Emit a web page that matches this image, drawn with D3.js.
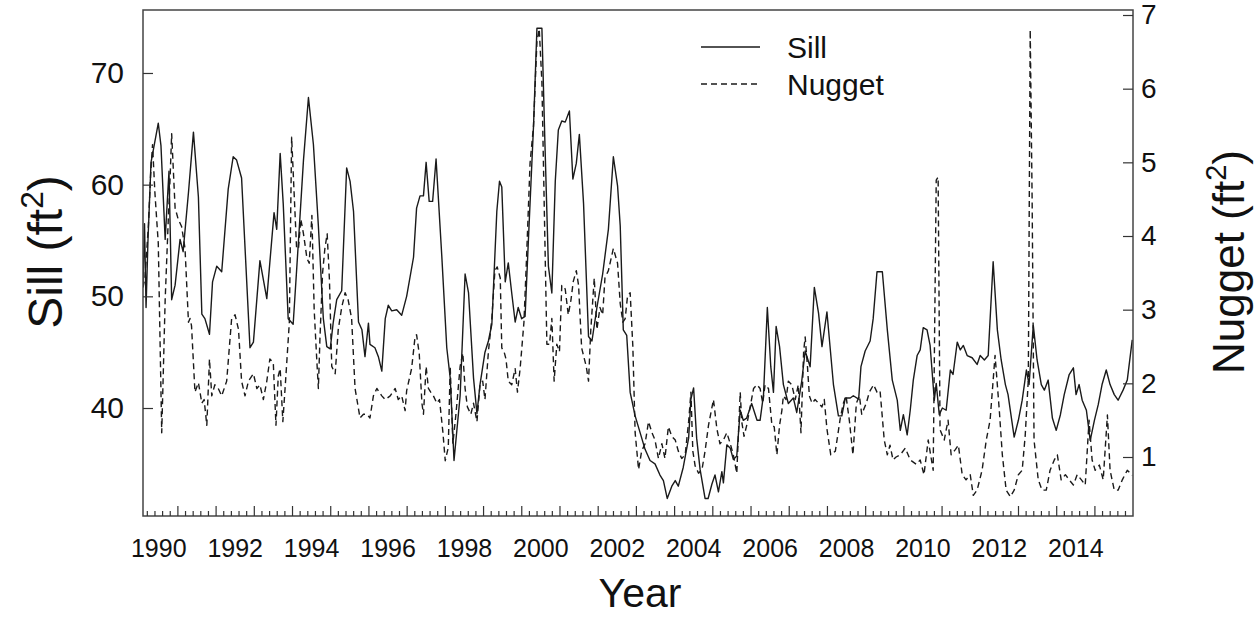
<!DOCTYPE html>
<html>
<head>
<meta charset="utf-8">
<script src="https://cdn.jsdelivr.net/npm/d3@7"></script>
<style>
  body { margin: 0; background: #fff; }
  text { font-family: "Liberation Sans", Arial, sans-serif; }
</style>
</head>
<body>
<svg id="chart" width="1256" height="617"></svg>
<script>
// Sill (ft^2) by decimal year
const sillSeries = [[1990.10,51.0],[1990.14,56.5],[1990.18,49.0],[1990.23,55.0],[1990.31,62.0],[1990.50,65.5],[1990.57,63.5],[1990.68,55.1],[1990.78,61.2],[1990.85,49.7],[1990.94,51.0],[1991.07,55.1],[1991.15,54.0],[1991.29,59.3],[1991.42,64.7],[1991.55,58.9],[1991.64,48.4],[1991.72,48.0],[1991.84,46.6],[1991.92,51.3],[1992.03,52.7],[1992.16,52.2],[1992.33,59.6],[1992.46,62.5],[1992.55,62.2],[1992.68,60.6],[1992.90,45.4],[1992.99,45.9],[1993.16,53.2],[1993.34,49.8],[1993.53,57.5],[1993.60,56.0],[1993.69,62.8],[1993.77,58.3],[1993.90,48.0],[1994.03,47.5],[1994.17,55.0],[1994.30,62.2],[1994.43,67.8],[1994.56,63.6],[1994.69,56.3],[1994.82,48.0],[1994.91,45.5],[1995.00,45.3],[1995.08,47.7],[1995.17,49.7],[1995.30,50.5],[1995.43,61.5],[1995.52,60.3],[1995.61,57.6],[1995.74,47.7],[1995.83,47.0],[1995.91,44.6],[1996.00,47.6],[1996.04,45.7],[1996.17,45.4],[1996.26,44.6],[1996.35,43.3],[1996.44,48.0],[1996.52,49.2],[1996.61,48.7],[1996.74,48.8],[1996.87,48.3],[1997.00,50.0],[1997.18,53.5],[1997.26,57.9],[1997.35,59.0],[1997.44,59.0],[1997.51,62.0],[1997.59,58.5],[1997.68,58.5],[1997.77,62.3],[1997.92,53.6],[1998.05,45.4],[1998.14,42.7],[1998.24,35.3],[1998.40,41.1],[1998.53,52.0],[1998.62,50.3],[1998.75,42.7],[1998.84,39.5],[1998.92,42.1],[1999.05,45.0],[1999.14,46.0],[1999.23,47.5],[1999.36,57.6],[1999.43,60.3],[1999.49,59.8],[1999.58,51.3],[1999.66,53.0],[1999.75,50.3],[1999.84,47.7],[1999.92,49.0],[2000.01,48.0],[2000.10,48.2],[2000.19,55.3],[2000.32,65.2],[2000.41,74.0],[2000.54,74.0],[2000.62,63.6],[2000.71,52.7],[2000.80,50.3],[2000.89,60.3],[2000.97,64.9],[2001.06,65.7],[2001.15,65.6],[2001.26,66.6],[2001.35,60.5],[2001.44,61.9],[2001.52,64.5],[2001.63,58.3],[2001.76,46.4],[2001.85,46.0],[2001.98,49.0],[2002.13,52.0],[2002.28,56.0],[2002.41,62.5],[2002.52,59.9],[2002.59,56.3],[2002.67,47.0],[2002.76,46.5],[2002.85,41.4],[2002.98,39.3],[2003.11,37.8],[2003.24,36.3],[2003.37,35.3],[2003.50,35.0],[2003.63,34.0],[2003.72,33.5],[2003.82,31.9],[2003.94,33.0],[2004.03,33.5],[2004.11,33.0],[2004.24,34.7],[2004.38,37.3],[2004.44,40.8],[2004.51,41.8],[2004.59,37.3],[2004.68,34.5],[2004.81,31.9],[2004.89,31.9],[2004.99,33.2],[2005.07,34.0],[2005.16,32.5],[2005.25,34.3],[2005.29,33.3],[2005.38,36.7],[2005.47,36.4],[2005.55,35.4],[2005.64,35.7],[2005.73,39.8],[2005.81,38.9],[2005.90,39.1],[2006.03,40.4],[2006.17,38.9],[2006.25,38.9],[2006.34,41.2],[2006.44,49.0],[2006.53,43.7],[2006.60,41.4],[2006.67,47.3],[2006.76,45.5],[2006.86,42.1],[2006.99,40.4],[2007.12,40.9],[2007.21,39.6],[2007.34,42.4],[2007.43,45.1],[2007.56,43.7],[2007.67,50.8],[2007.78,48.5],[2007.87,45.5],[2008.00,48.6],[2008.17,42.1],[2008.30,39.3],[2008.39,39.3],[2008.48,40.9],[2008.61,40.9],[2008.69,41.1],[2008.83,40.8],[2008.89,43.7],[2009.00,45.1],[2009.13,46.0],[2009.21,48.0],[2009.31,52.2],[2009.45,52.2],[2009.58,47.0],[2009.71,42.5],[2009.84,40.7],[2009.92,38.0],[2010.00,39.4],[2010.10,37.6],[2010.18,39.8],[2010.26,42.5],[2010.36,44.7],[2010.44,45.2],[2010.52,47.2],[2010.62,47.0],[2010.70,45.6],[2010.81,40.7],[2010.86,42.2],[2010.94,39.4],[2011.02,40.0],[2011.12,39.8],[2011.23,43.4],[2011.30,43.0],[2011.41,45.9],[2011.49,45.2],[2011.57,45.6],[2011.67,44.7],[2011.80,44.5],[2011.93,43.9],[2012.01,44.7],[2012.12,44.3],[2012.22,44.7],[2012.35,53.1],[2012.46,47.0],[2012.56,44.3],[2012.67,42.1],[2012.74,41.2],[2012.90,37.4],[2013.01,38.9],[2013.11,40.7],[2013.22,43.4],[2013.29,42.1],[2013.40,47.4],[2013.50,44.3],[2013.61,42.1],[2013.69,41.6],[2013.79,42.5],[2013.90,39.1],[2014.00,38.0],[2014.11,39.4],[2014.21,41.2],[2014.34,43.0],[2014.45,43.6],[2014.52,41.2],[2014.60,42.1],[2014.68,40.7],[2014.79,39.8],[2014.89,37.1],[2015.00,38.9],[2015.10,40.3],[2015.20,42.1],[2015.31,43.4],[2015.41,42.1],[2015.52,41.2],[2015.62,40.7],[2015.75,41.6],[2015.86,42.5],[2015.99,46.1]];

// Nugget (ft^2) by decimal year
const nuggetSeries = [[1990.10,3.3],[1990.15,3.43],[1990.24,4.13],[1990.30,4.84],[1990.35,5.24],[1990.41,4.6],[1990.50,3.9],[1990.59,1.33],[1990.68,3.13],[1990.76,4.2],[1990.81,4.8],[1990.85,5.39],[1990.94,4.38],[1991.02,4.23],[1991.11,4.13],[1991.20,3.83],[1991.29,2.83],[1991.33,2.88],[1991.37,2.78],[1991.46,1.88],[1991.55,2.01],[1991.64,1.73],[1991.70,1.78],[1991.77,1.43],[1991.84,2.33],[1991.90,1.83],[1991.98,1.98],[1992.07,1.93],[1992.16,1.83],[1992.29,2.03],[1992.42,2.88],[1992.51,2.93],[1992.60,2.73],[1992.68,2.03],[1992.77,1.83],[1992.86,2.03],[1992.99,2.13],[1993.08,1.93],[1993.16,1.98],[1993.25,1.78],[1993.34,2.03],[1993.42,2.33],[1993.51,2.28],[1993.58,1.43],[1993.64,2.1],[1993.69,2.2],[1993.76,1.48],[1993.84,2.1],[1993.93,2.83],[1993.99,5.34],[1994.05,4.64],[1994.12,3.83],[1994.17,3.83],[1994.23,4.23],[1994.30,4.03],[1994.39,3.7],[1994.45,3.63],[1994.52,4.28],[1994.58,3.0],[1994.65,2.3],[1994.69,1.93],[1994.73,2.6],[1994.80,3.5],[1994.86,3.83],[1994.92,4.03],[1994.98,3.4],[1995.04,2.23],[1995.13,2.13],[1995.21,2.73],[1995.30,3.03],[1995.39,3.23],[1995.47,3.13],[1995.56,2.88],[1995.65,1.93],[1995.78,1.53],[1995.87,1.58],[1995.96,1.58],[1996.04,1.53],[1996.13,1.83],[1996.22,1.93],[1996.35,1.83],[1996.44,1.78],[1996.57,1.83],[1996.70,1.93],[1996.78,1.78],[1996.87,1.83],[1996.96,1.63],[1997.00,1.9],[1997.13,2.2],[1997.22,2.63],[1997.26,2.66],[1997.33,2.4],[1997.40,1.73],[1997.44,1.58],[1997.51,2.23],[1997.57,1.93],[1997.63,1.88],[1997.70,1.83],[1997.79,1.73],[1997.86,1.78],[1997.95,1.33],[1998.01,0.95],[1998.09,1.13],[1998.14,2.23],[1998.21,1.18],[1998.29,1.58],[1998.40,2.23],[1998.47,2.41],[1998.53,1.93],[1998.59,1.68],[1998.68,1.58],[1998.75,1.73],[1998.84,1.48],[1998.92,1.98],[1998.99,2.03],[1999.05,1.78],[1999.14,2.43],[1999.23,2.88],[1999.31,3.53],[1999.37,3.58],[1999.45,3.43],[1999.49,2.48],[1999.55,2.43],[1999.60,2.33],[1999.66,2.03],[1999.75,1.98],[1999.84,2.2],[1999.90,1.88],[1999.97,2.2],[2000.07,2.83],[2000.14,3.73],[2000.23,4.99],[2000.32,5.49],[2000.41,6.64],[2000.47,6.81],[2000.54,6.09],[2000.60,4.44],[2000.67,2.53],[2000.74,2.53],[2000.80,2.88],[2000.86,2.03],[2000.93,2.53],[2001.00,2.43],[2001.06,3.33],[2001.15,3.28],[2001.23,2.93],[2001.30,3.13],[2001.36,3.38],[2001.44,3.53],[2001.50,3.33],[2001.58,2.48],[2001.70,2.23],[2001.76,2.03],[2001.82,2.73],[2001.91,3.43],[2001.98,2.73],[2002.06,3.03],[2002.13,2.93],[2002.19,3.43],[2002.28,3.53],[2002.41,3.83],[2002.52,3.63],[2002.59,3.08],[2002.66,2.83],[2002.72,2.88],[2002.78,3.18],[2002.85,3.23],[2002.92,2.5],[2002.98,1.33],[2003.07,0.83],[2003.15,1.08],[2003.24,1.18],[2003.33,1.48],[2003.42,1.33],[2003.50,1.23],[2003.59,0.98],[2003.68,1.18],[2003.76,0.98],[2003.85,1.41],[2003.94,1.28],[2004.03,1.23],[2004.11,1.08],[2004.20,0.98],[2004.29,1.03],[2004.38,1.48],[2004.44,1.88],[2004.49,1.08],[2004.55,0.88],[2004.64,0.78],[2004.73,0.83],[2004.81,1.08],[2004.90,1.43],[2005.03,1.78],[2005.12,1.38],[2005.20,1.18],[2005.29,1.23],[2005.38,1.33],[2005.47,1.18],[2005.55,1.03],[2005.64,0.78],[2005.73,1.88],[2005.77,1.48],[2005.83,1.28],[2005.90,1.43],[2005.99,1.68],[2006.08,1.93],[2006.17,1.98],[2006.25,1.93],[2006.32,1.73],[2006.38,1.98],[2006.47,1.93],[2006.56,1.43],[2006.62,1.41],[2006.69,1.03],[2006.76,1.43],[2006.82,1.63],[2006.86,1.83],[2006.93,1.78],[2006.99,2.03],[2007.08,1.98],[2007.17,1.78],[2007.25,1.98],[2007.32,1.33],[2007.39,2.43],[2007.43,2.63],[2007.49,2.23],[2007.54,1.83],[2007.61,1.73],[2007.69,1.78],[2007.78,1.73],[2007.87,1.68],[2007.93,1.78],[2008.00,1.38],[2008.10,1.03],[2008.22,1.08],[2008.35,1.53],[2008.43,1.73],[2008.50,1.83],[2008.59,1.48],[2008.68,1.03],[2008.77,1.73],[2008.85,1.83],[2008.91,1.58],[2009.03,1.73],[2009.11,1.88],[2009.22,1.98],[2009.31,1.88],[2009.39,1.9],[2009.50,1.23],[2009.58,1.03],[2009.65,1.16],[2009.73,0.96],[2009.81,1.0],[2009.92,1.03],[2010.05,1.12],[2010.18,0.96],[2010.34,0.9],[2010.44,0.96],[2010.54,0.76],[2010.65,1.23],[2010.78,0.82],[2010.86,4.76],[2010.91,4.8],[2010.96,1.37],[2011.07,1.23],[2011.17,1.50],[2011.25,1.03],[2011.36,1.1],[2011.44,1.16],[2011.54,0.76],[2011.64,0.69],[2011.75,0.76],[2011.83,0.48],[2011.93,0.55],[2012.06,0.82],[2012.17,1.23],[2012.27,1.50],[2012.40,2.38],[2012.51,1.64],[2012.59,1.03],[2012.69,0.55],[2012.80,0.46],[2012.90,0.55],[2013.01,0.76],[2013.11,0.82],[2013.19,1.30],[2013.27,2.05],[2013.32,6.8],[2013.37,4.49],[2013.42,1.23],[2013.53,0.69],[2013.63,0.55],[2013.74,0.55],[2013.84,0.82],[2013.95,0.96],[2014.03,1.03],[2014.13,0.69],[2014.24,0.76],[2014.34,0.69],[2014.45,0.62],[2014.55,0.76],[2014.66,0.69],[2014.76,0.62],[2014.86,1.50],[2014.94,0.96],[2015.02,0.82],[2015.13,0.89],[2015.23,0.69],[2015.34,1.57],[2015.41,0.82],[2015.52,0.55],[2015.62,0.55],[2015.73,0.69],[2015.86,0.82],[2015.99,0.75]];

const yearLabels = [1990, 1992, 1994, 1996, 1998, 2000, 2002, 2004, 2006, 2008, 2010, 2012, 2014];
const sillTicks = [40, 50, 60, 70];
const nuggetTicks = [1, 2, 3, 4, 5, 6, 7];
const seriesNames = ["Sill", "Nugget"];

const svg = d3.select("#chart");
const X0 = 143, X1 = 1133, Y0 = 10, Y1 = 516;
const ink = "#1a1a1a";

const x = d3.scaleLinear().domain([1990.1, 2016.01]).range([X0, X1]);
const ySill = d3.scaleLinear().domain([30.33, 75.64]).range([Y1, Y0]);
const yNug = d3.scaleLinear().domain([0.199, 7.068]).range([Y1, Y0]);

// series lines
svg.append("clipPath").attr("id", "plotArea").append("rect")
  .attr("x", X0).attr("y", Y0).attr("width", X1 - X0).attr("height", Y1 - Y0);

const plot = svg.append("g").attr("clip-path", "url(#plotArea)");
plot.append("path").datum(sillSeries)
  .attr("d", d3.line().x(d => x(d[0])).y(d => ySill(d[1])))
  .attr("fill", "none").attr("stroke", ink).attr("stroke-width", 1.4)
  .attr("stroke-linejoin", "round");
plot.append("path").datum(nuggetSeries)
  .attr("d", d3.line().x(d => x(d[0])).y(d => yNug(d[1])))
  .attr("fill", "none").attr("stroke", ink).attr("stroke-width", 1.4)
  .attr("stroke-dasharray", "6,4").attr("stroke-linejoin", "round");

// frame
svg.append("rect").attr("x", X0).attr("y", Y0)
  .attr("width", X1 - X0).attr("height", Y1 - Y0)
  .attr("fill", "none").attr("stroke", "#444").attr("stroke-width", 1.5);

function styleAxis(g, size) {
  g.select(".domain").remove();
  g.attr("color", "#333");
  g.selectAll("line").attr("stroke-width", 1.2);
  g.selectAll("text").attr("font-size", size)
    .attr("font-family", "'Liberation Sans', Arial, sans-serif").attr("fill", "#111");
}

// left axis (Sill)
svg.append("g").attr("transform", `translate(${X0},0)`)
  .call(d3.axisLeft(ySill).tickValues(sillTicks).tickSize(-10).tickPadding(19))
  .call(g => styleAxis(g, 30));

// right axis (Nugget)
svg.append("g").attr("transform", `translate(${X1},0)`)
  .call(d3.axisRight(yNug).tickValues(nuggetTicks).tickSize(-10).tickPadding(8)
    .tickFormat(d3.format("d")))
  .call(g => styleAxis(g, 28));

// bottom: year ticks, minor ticks and labels centred on each year
const majorYears = d3.range(1991, 2016);
const minorYears = d3.range(1990, 2016).flatMap(y => [0.2, 0.4, 0.6, 0.8].map(f => y + f))
  .filter(v => v > 1990.1 && v < 2016);
svg.append("g").attr("transform", `translate(0,${Y1})`)
  .call(d3.axisBottom(x).tickValues(majorYears).tickSize(-10).tickFormat(""))
  .call(g => styleAxis(g, 22));
svg.append("g").attr("transform", `translate(0,${Y1})`)
  .call(d3.axisBottom(x).tickValues(minorYears).tickSize(-5).tickFormat(""))
  .call(g => styleAxis(g, 22));
svg.append("g").attr("transform", `translate(0,${Y1})`)
  .call(d3.axisBottom(x).tickValues(yearLabels.map(y => y + 0.5)).tickSize(0).tickPadding(23)
    .tickFormat(d => String(Math.round(d - 0.5))))
  .call(g => styleAxis(g, 25));

// axis titles
function titleWithSquare(g, label, size) {
  const t = g.append("text").attr("text-anchor", "middle").attr("font-size", size).attr("fill", "#111");
  t.append("tspan").text(label + " (ft");
  t.append("tspan").attr("font-size", size * 0.66).attr("dy", -size * 0.4).text("2");
  t.append("tspan").attr("dy", size * 0.4).text(")");
  return t;
}
titleWithSquare(svg.append("g").attr("transform", "translate(62,252) rotate(-90)"), "Sill", 48);
titleWithSquare(svg.append("g").attr("transform", "translate(1244,262) rotate(-90)"), "Nugget", 44);
svg.append("text").attr("x", 640).attr("y", 607).attr("text-anchor", "middle")
  .attr("font-size", 41).attr("fill", "#111").text("Year");

// legend
const legend = svg.append("g");
seriesNames.forEach((name, i) => {
  const ly = 47 + i * 37;
  legend.append("line").attr("x1", 701).attr("x2", 760).attr("y1", ly).attr("y2", ly)
    .attr("stroke", ink).attr("stroke-width", 1.4)
    .attr("stroke-dasharray", i === 1 ? "6,4" : null);
  legend.append("text").attr("x", 787).attr("y", ly).attr("dy", "0.35em")
    .attr("font-size", 30).attr("fill", "#111").text(name);
});
</script>
</body>
</html>
